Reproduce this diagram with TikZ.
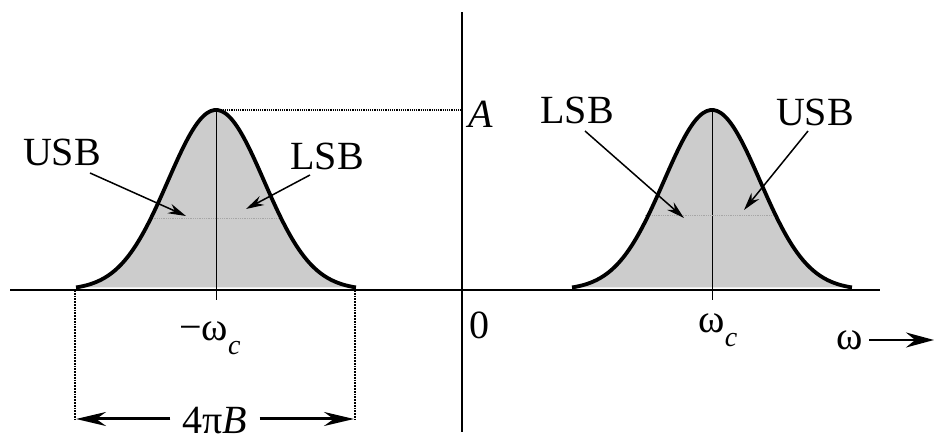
\documentclass[tikz,border=0pt]{standalone}
\usepackage{fontspec}
\setmainfont{Liberation Serif}
\usetikzlibrary{arrows.meta}
\begin{document}
\begin{tikzpicture}[x=1pt,y=1pt,
  lbl/.style={inner sep=0pt,font=\fontsize{40}{44}\selectfont},
  axisline/.style={line width=2pt},
  pulse/.style={line width=3.8pt,line join=round},
  pfill/.style={fill=gray!40},
  ptr/.style={line width=1.5pt,-{Stealth[length=18pt,width=10pt]}},
  dimarrow/.style={line width=3pt,-{Stealth[length=30pt,width=14pt]}},
  dimline/.style={line width=1.8pt,densely dotted},
  peakline/.style={line width=1.2pt,densely dotted},
  midline/.style={line width=0.8pt,densely dotted,gray!70}]
\useasboundingbox (0,0) rectangle (940,441);
% coordinates
\coordinate (axL) at (10,151);
\coordinate (axR) at (880,151);
\coordinate (vtop) at (462,429);
\coordinate (vbot) at (462,9);
\coordinate (lc) at (216,151);
\coordinate (rc) at (712,151);
% pulses
\foreach \c in {lc,rc}{
  \begin{scope}[shift={(\c)}]
    \fill[pfill] plot[domain=-140:140,samples=80,smooth] (\x,{180*exp(-0.5*(\x/48)^2)}) -- cycle;
  \end{scope}
}
% axes
\draw[axisline] (axL) -- (axR);
\draw[line width=1.6pt] (vbot) -- (vtop);
% center lines
\coordinate (lpk) at (216,331);
\coordinate (lbt) at (216,141);
\coordinate (rpk) at (712,331);
\coordinate (rbt) at (712,141);
\draw[line width=1pt] (lpk) -- (lbt);
\draw[line width=1pt] (rpk) -- (rbt);
% mid dotted lines
\coordinate (lm1) at (150,223); \coordinate (lm2) at (278,223);
\coordinate (rm1) at (645,226); \coordinate (rm2) at (778,226);
\draw[midline] (lm1) -- (lm2);
\draw[midline] (rm1) -- (rm2);
% pulse outlines
\foreach \c in {lc,rc}{
  \begin{scope}[shift={(\c)}]
    \draw[pulse] plot[domain=-140:140,samples=80,smooth] (\x,{180*exp(-0.5*(\x/48)^2)});
  \end{scope}
}
% peak dotted line and A
\coordinate (aax) at (462,331);
\draw[peakline] (lpk) -- (aax);
\node[lbl,anchor=west] (A) at (468,327) {\itshape A};
% labels left
\node[lbl] (usbL) at (62,289) {USB};
\node[lbl] (lsbL) at (327,285) {LSB};
\coordinate (usbLt) at (186,225);
\coordinate (lsbLt) at (246,232);
\draw[ptr] (90,268) -- (usbLt);
\draw[ptr] (310,266) -- (lsbLt);
% labels right
\node[lbl] (lsbR) at (577,331) {LSB};
\node[lbl] (usbR) at (815,329) {USB};
\coordinate (lsbRt) at (684,223);
\coordinate (usbRt) at (744,231);
\draw[ptr] (585,310) -- (lsbRt);
\draw[ptr] (808,310) -- (usbRt);
% axis labels
\node[lbl] (mwc) at (210,103) {−ω\raisebox{-0.35em}{\fontsize{28}{30}\selectfont\itshape c}};
\node[lbl] (zero) at (479,116) {0};
\node[lbl] (wc) at (718,111) {ω\raisebox{-0.35em}{\fontsize{28}{30}\selectfont\itshape c}};
\node[lbl] (w) at (850,101) {ω};
\coordinate (wend) at (934,101);
\draw[line width=2.4pt,-{Stealth[length=28pt,width=15pt]}] (w.east)+(6,0) -- (wend);
% dimension
\coordinate (d1t) at (75,151); \coordinate (d1b) at (75,22);
\coordinate (d2t) at (355,151); \coordinate (d2b) at (355,22);
\draw[dimline] (d1t) -- (d1b);
\draw[dimline] (d2t) -- (d2b);
\node[lbl] (bw) at (215,20) {4π\textit{B}};
\draw[dimarrow] (bw.west)+(-12,2) -- (76,22);
\draw[dimarrow] (bw.east)+(12,2) -- (354,22);
\end{tikzpicture}
\end{document}
